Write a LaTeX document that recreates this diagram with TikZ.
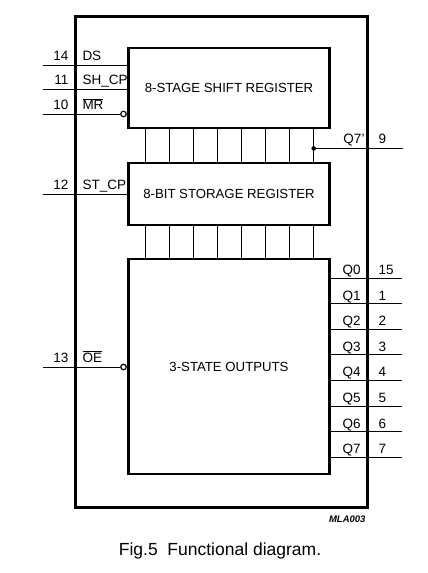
\documentclass[tikz,border=0pt]{standalone}
\usepackage{fontspec}
\setmainfont{Liberation Sans}
\usetikzlibrary{positioning}
\newcommand{\ovl}[1]{$\overline{\hbox{#1}}$}

\begin{document}
\begin{tikzpicture}[x=1pt,y=-1pt,line width=1pt]
                \tikzstyle{every node}+=[inner sep=0pt]
                \tikzstyle{blk}=[draw, line width=2.8pt, minimum width=201pt, font=\fontsize{13.2}{15}\selectfont]
                \tikzstyle{lbl}=[font=\fontsize{13.5}{15}\selectfont]
                \tikzstyle{bub}=[circle, draw, line width=1.2pt, minimum size=5.5pt]
                \useasboundingbox (0,0) rectangle (428,573);
                % outer package outline
                \draw [black, line width=3pt] (75,16) rectangle (367.5,507);
                % the three blocks
                \node [blk, minimum height=80pt] (shift) at (229,88) {8-STAGE SHIFT REGISTER};
                \node [blk, minimum height=62pt] (store) at (229,194) {8-BIT STORAGE REGISTER};
                \node [blk, minimum height=215pt] (outp) at (229,366.5) {3-STATE OUTPUTS};
                % 8 parallel lines between the blocks
                \foreach \i in {0,...,7} {
                    \coordinate (b\i) at (145+24.1*\i,0);
                    \draw [black] (shift.south -| b\i) -- (store.north -| b\i);
                    \draw [black] (store.south -| b\i) -- (outp.north -| b\i);
                }
                % inputs
                \coordinate (ds) at (43,65);
                \coordinate (shcp) at (43,89);
                \coordinate (mr) at (43,114);
                \coordinate (stcp) at (43,194);
                \coordinate (oe) at (43,367);
                \node [bub] (mrb) at (123.5,114) {};
                \node [bub] (oeb) at (123.5,367) {};
                \draw [black] (ds) -- (ds -| shift.west);
                \draw [black] (shcp) -- (shcp -| shift.west);
                \draw [black] (mr) -- (mrb);
                \draw [black] (stcp) -- (stcp -| store.west);
                \draw [black] (oe) -- (oeb);
                \node [lbl, anchor=base east] (n14) at (69,60.5) {14};
                \node [lbl, anchor=base west] (lds) at (82,60.5) {DS};
                \node [lbl, anchor=base east] (n11) at (69,84.5) {11};
                \node [lbl, anchor=base west] (lshcp) at (82,84.5) {SH\_CP};
                \node [lbl, anchor=base east] (n10) at (69,109.5) {10};
                \node [lbl, anchor=base west] (lmr) at (82,109.5) {\ovl{MR}};
                \node [lbl, anchor=base east] (n12) at (69,189.5) {12};
                \node [lbl, anchor=base west] (lstcp) at (82,189.5) {ST\_CP};
                \node [lbl, anchor=base east] (n13) at (69,362.5) {13};
                \node [lbl, anchor=base west] (loe) at (82,362.5) {\ovl{OE}};
                % serial output Q7'
                \fill [black] (shift.south -| b7) ++(0,19) circle (2.3pt) coordinate (q7s);
                \coordinate (q7e) at (403,147);
                \draw [black] (q7s) -- (q7e |- q7s);
                \node [lbl, anchor=base east] (lq7s) at (365,143) {Q7'};
                \node [lbl, anchor=base west] (n9) at (378,143) {9};
                % parallel outputs
                \foreach \q/\p [count=\k from 0] in {Q0/15,Q1/1,Q2/2,Q3/3,Q4/4,Q5/5,Q6/6,Q7/7} {
                    \coordinate (o\k) at (402,278+25.6*\k);
                    \draw [black] (o\k -| outp.east) -- (o\k);
                    \node [lbl, anchor=base west] (l\q) at (342,274.5+25.6*\k) {\q};
                    \node [lbl, anchor=base west] (n\q) at (378,274.5+25.6*\k) {\p};
                }
                \node [font=\fontsize{9.5}{11}\selectfont\bfseries\itshape, anchor=base east] (code) at (366,522) {MLA003};
                \node [font=\fontsize{17.5}{20}\selectfont, anchor=base] (cap) at (220,555) {Fig.5\ \ Functional diagram.};
            \end{tikzpicture}
\end{document}
